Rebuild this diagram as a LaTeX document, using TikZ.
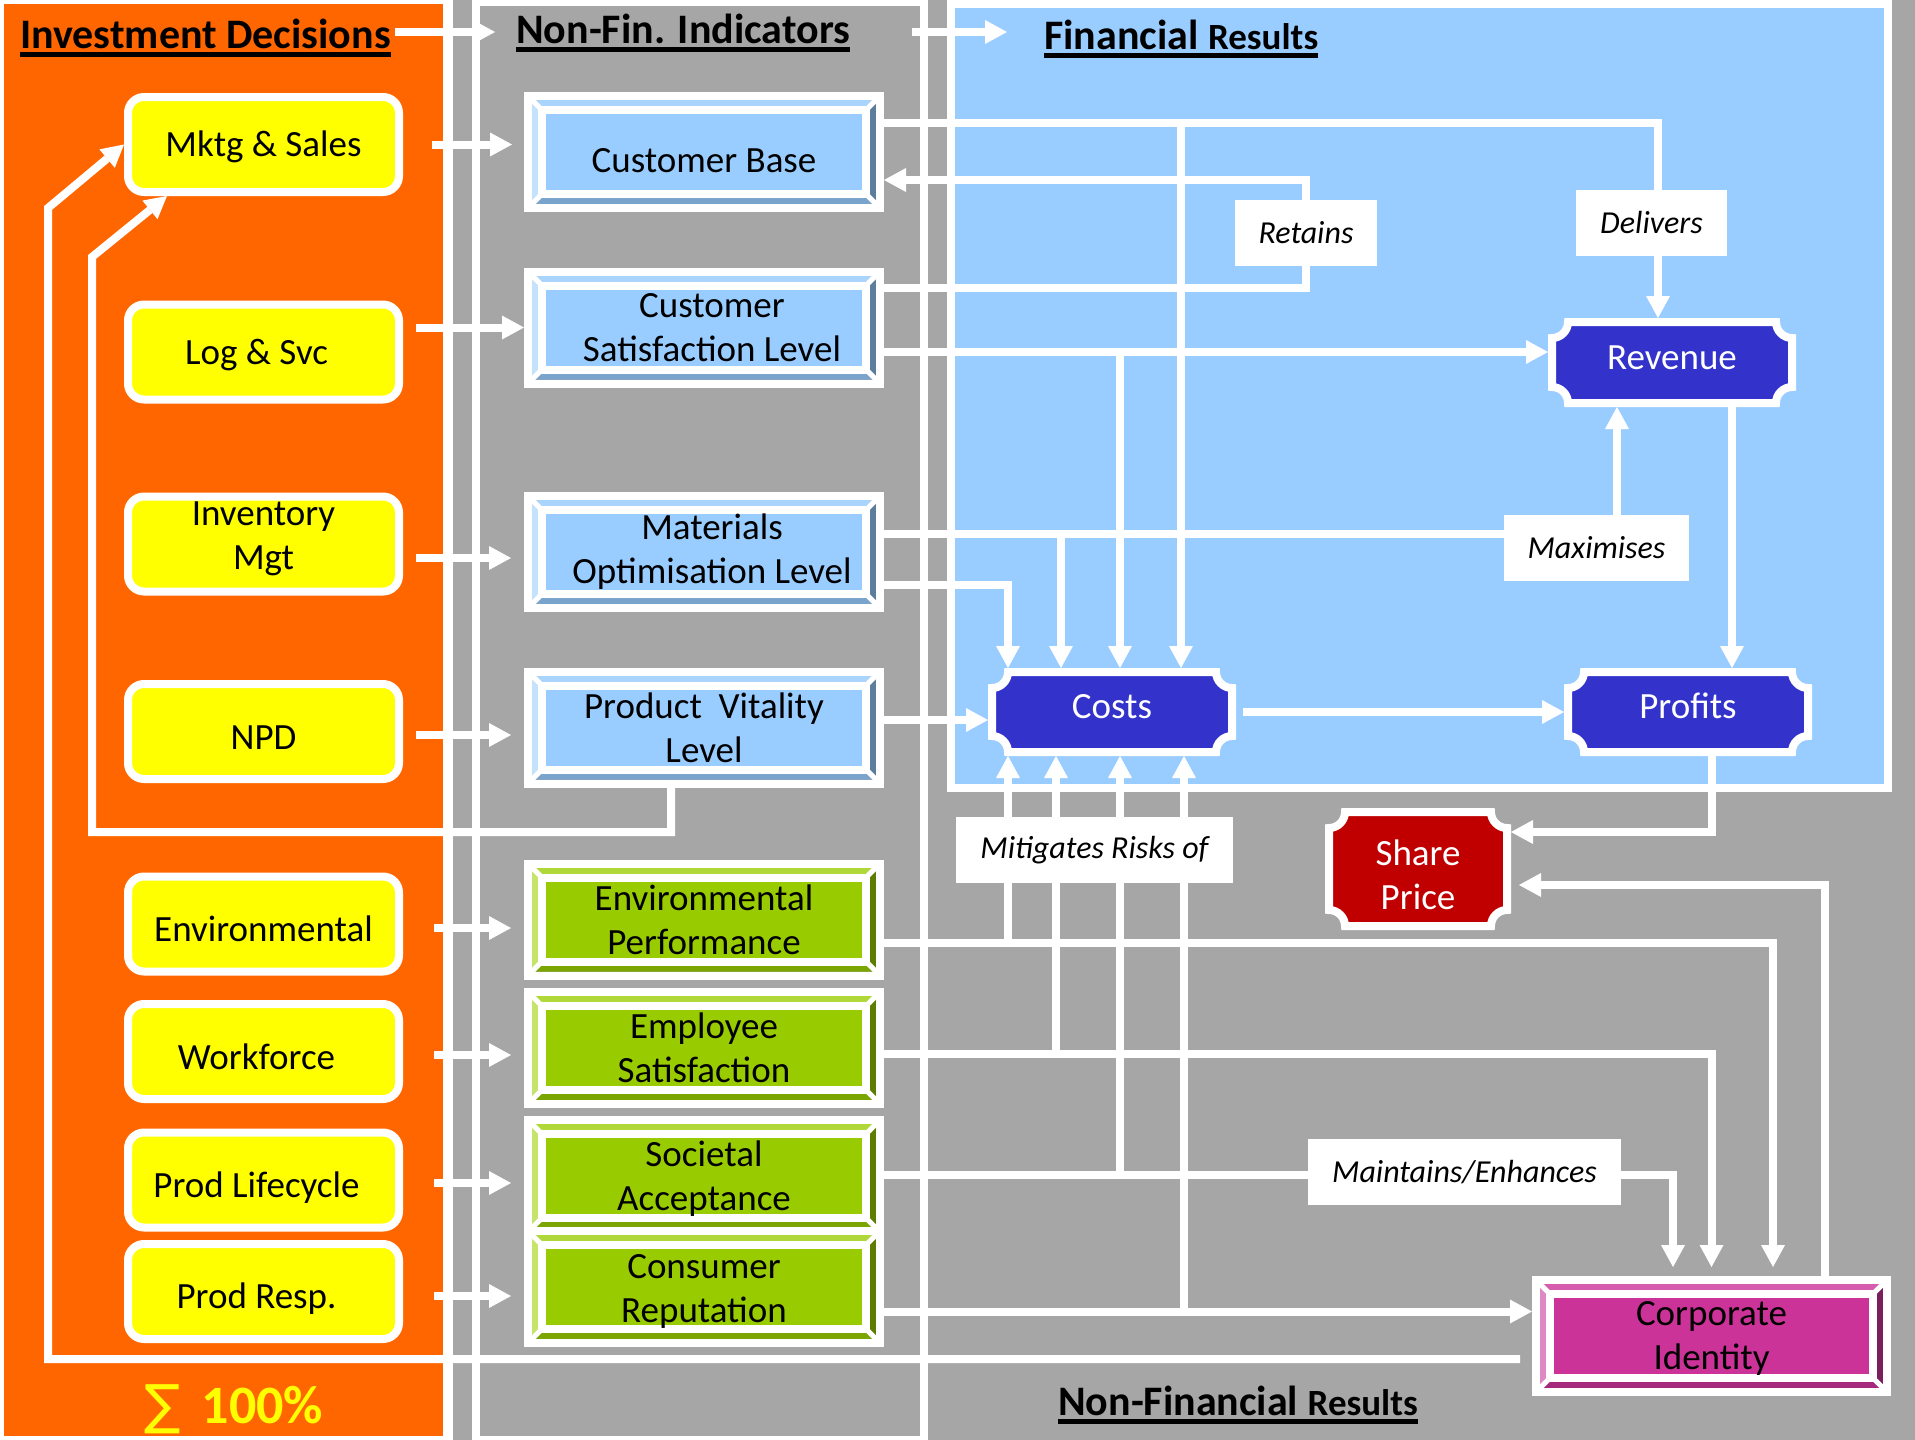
\documentclass[tikz,border=0pt]{standalone}
\usepackage{fontspec}
\setmainfont{Carlito}
\newfontfamily\sigmafont{DejaVu Sans}
\usetikzlibrary{arrows.meta,calc}
\pgfdeclarelayer{panels}
\pgfdeclarelayer{wires}
\pgfdeclarelayer{plates}
\pgfsetlayers{panels,wires,plates,main}

\definecolor{orangeP}{HTML}{FF6600}
\definecolor{greyP}{HTML}{A6A6A6}
\definecolor{skyP}{HTML}{99CCFF}
\definecolor{indigoP}{HTML}{3333CC}
\definecolor{redP}{HTML}{C00000}
\definecolor{yellowP}{HTML}{FFFF00}
% bevel shades: face, top, right, bottom, left
\definecolor{bFace}{HTML}{99CCFF}\definecolor{bTop}{HTML}{AAD4FB}
\definecolor{bRight}{HTML}{5E7D9C}\definecolor{bBot}{HTML}{7BA4CD}\definecolor{bLeft}{HTML}{C5E2FC}
\definecolor{gFace}{HTML}{99CC00}\definecolor{gTop}{HTML}{B0D83A}
\definecolor{gRight}{HTML}{5E7D00}\definecolor{gBot}{HTML}{7BA500}\definecolor{gLeft}{HTML}{C6E36B}
\definecolor{mFace}{HTML}{CC3399}\definecolor{mTop}{HTML}{D65DAE}
\definecolor{mRight}{HTML}{7A1F5C}\definecolor{mBot}{HTML}{A52A7C}\definecolor{mLeft}{HTML}{E088C4}

\newcommand\bodyfont{\fontsize{37pt}{44pt}\selectfont}
\newcommand\tagfont{\fontsize{32pt}{38pt}\selectfont\itshape}
\newcommand\ulhead[1]{\setbox0=\hbox{#1}\rlap{\usebox0}\rule[-9pt]{\wd0}{5pt}}
% vertical nudges of node text without changing the node size
\newcommand\nudge[2]{\raisebox{#1}[\height][\depth]{#2}}
\newcommand\nudgerows[2]{\raisebox{#1}[\height][\depth]{\begin{tabular}{@{}c@{}}#2\end{tabular}}}

% plaque outline (concave corners) around a named node
\newcommand\plaqueframe[2]{%
  \path[fill=#2, draw=white, line width=8pt]
    ([shift={(20pt,-4pt)}]#1.north west) -- ([shift={(-20pt,-4pt)}]#1.north east)
    .. controls ([shift={(-20pt,-12.8pt)}]#1.north east) and ([shift={(-12.8pt,-20pt)}]#1.north east) .. ([shift={(-4pt,-20pt)}]#1.north east)
    -- ([shift={(-4pt,20pt)}]#1.south east)
    .. controls ([shift={(-12.8pt,20pt)}]#1.south east) and ([shift={(-20pt,12.8pt)}]#1.south east) .. ([shift={(-20pt,4pt)}]#1.south east)
    -- ([shift={(20pt,4pt)}]#1.south west)
    .. controls ([shift={(20pt,12.8pt)}]#1.south west) and ([shift={(12.8pt,20pt)}]#1.south west) .. ([shift={(4pt,20pt)}]#1.south west)
    -- ([shift={(4pt,-20pt)}]#1.north west)
    .. controls ([shift={(12.8pt,-20pt)}]#1.north west) and ([shift={(20pt,-12.8pt)}]#1.north west) .. ([shift={(20pt,-4pt)}]#1.north west)
    -- cycle;}

\tikzset{
  wire/.style={draw=white, line width=8pt},
  flow/.style={wire, -{Triangle[length=22pt, width=24pt, line width=0pt]}},
  hdr/.style={inner sep=0pt, font=\bfseries\fontsize{42pt}{48pt}\selectfont},
  ybox/.style={rectangle, rounded corners=16pt, fill=yellowP, draw=white, line width=8pt,
    minimum width=271pt, minimum height=95pt, inner sep=0pt, align=center, font=\bodyfont},
  plaque/.style={rectangle, inner sep=0pt, outer sep=0pt, text=white, align=center, font=\bodyfont},
  tagbox/.style={rectangle, fill=white, inner sep=0pt, minimum height=66pt, font=\tagfont},
  bevel/.style n args={5}{rectangle, draw=white, line width=8pt, inner sep=0pt,
    minimum width=352pt, minimum height=112pt, align=center, font=\bodyfont,
    path picture={
      \path (path picture bounding box.north west) coordinate (bnw)
            (path picture bounding box.south east) coordinate (bse);
      \path (bnw -| bse) coordinate (bne) (bnw |- bse) coordinate (bsw);
      \fill[#2] ([shift={(4pt,-4pt)}]bnw) -- ([shift={(-4pt,-4pt)}]bne) -- ([shift={(-14pt,-14pt)}]bne) -- ([shift={(14pt,-14pt)}]bnw) -- cycle;
      \fill[#3] ([shift={(-4pt,-4pt)}]bne) -- ([shift={(-4pt,4pt)}]bse) -- ([shift={(-14pt,14pt)}]bse) -- ([shift={(-14pt,-14pt)}]bne) -- cycle;
      \fill[#4] ([shift={(-4pt,4pt)}]bse) -- ([shift={(4pt,4pt)}]bsw) -- ([shift={(14pt,14pt)}]bsw) -- ([shift={(-14pt,14pt)}]bse) -- cycle;
      \fill[#5] ([shift={(4pt,4pt)}]bsw) -- ([shift={(4pt,-4pt)}]bnw) -- ([shift={(14pt,-14pt)}]bnw) -- ([shift={(14pt,14pt)}]bsw) -- cycle;
      \draw[white, line width=5pt] ([shift={(4pt,-4pt)}]bnw) -- ([shift={(14pt,-14pt)}]bnw)
            ([shift={(-4pt,-4pt)}]bne) -- ([shift={(-14pt,-14pt)}]bne)
            ([shift={(-4pt,4pt)}]bse) -- ([shift={(-14pt,14pt)}]bse)
            ([shift={(4pt,4pt)}]bsw) -- ([shift={(14pt,14pt)}]bsw);
      \draw[white, line width=8pt, fill=#1] ([shift={(14pt,-14pt)}]bnw) rectangle ([shift={(-14pt,14pt)}]bse);
    }},
  blueind/.style={bevel={bFace}{bTop}{bRight}{bBot}{bLeft}},
  greenind/.style={bevel={gFace}{gTop}{gRight}{gBot}{gLeft}},
}

\begin{document}
\begin{tikzpicture}[x=1pt, y=-1pt]
\useasboundingbox (0,0) rectangle (1915,1440);

% ---------- panels ----------
\begin{pgfonlayer}{panels}
  \fill[white] (0,0) rectangle (1915,1440);
  \fill[orangeP] (4,4) rectangle (443,1436);
  \fill[greyP] (453,0) rectangle (1915,1440);
  \draw[white, line width=8pt, fill=greyP] (476,2) rectangle (924,1440);
  \draw[white, line width=8pt, fill=skyP] (950.5,4) rectangle (1888,788);
\end{pgfonlayer}

% ---------- headings ----------
\node[hdr, anchor=base west] (hid) at (20,48) {\ulhead{Investment Decisions}};
\node[hdr, anchor=base west] (hnf) at (516,43) {\ulhead{Non-Fin. Indicators}};
\node[hdr, anchor=base west] (hfr) at (1044,49) {\ulhead{Financial {\fontsize{37pt}{44pt}\selectfont Results}}};
\node[hdr, anchor=base west] (hnr) at (1058,1415) {\ulhead{Non-Financial {\fontsize{37pt}{44pt}\selectfont Results}}};
\node[anchor=base west, inner sep=0pt, text=yellowP] (sum) at (144,1423)
  {\makebox[57.5pt][l]{\sigmafont\fontsize{54pt}{58pt}\selectfont ∑}{\bfseries\fontsize{54pt}{58pt}\selectfont 100\%}};

% ---------- investment decisions ----------
\node[ybox] (mk)  at (263.5,144.5) {\nudge{-2.5pt}{Mktg \& Sales}};
\node[ybox] (lg)  at (263.5,352)   {\nudge{-3.5pt}{Log \& Svc\hspace*{14pt}}};
\node[ybox] (inv) at (263.5,544)   {\nudgerows{5pt}{Inventory\\Mgt}};
\node[ybox] (npd) at (263.5,731.5) {\nudge{-6pt}{NPD}};
\node[ybox] (env) at (263.5,924)   {\nudge{-5pt}{Environmental}};
\node[ybox] (wrk) at (263.5,1051.5){\nudge{-5pt}{Workforce\hspace*{14pt}}};
\node[ybox] (plc) at (263.5,1180)  {\nudge{-8pt}{Prod Lifecycle\hspace*{14pt}}};
\node[ybox] (prs) at (263.5,1291.5){\nudge{-7pt}{Prod Resp.\hspace*{14pt}}};

% ---------- non-financial indicators ----------
\node[blueind] (cb)  at (704,152)   {\nudge{-9pt}{Customer Base}};
\node[blueind] (csl) at (704,327.5) {\hspace*{16pt}Customer\\\hspace*{16pt}Satisfaction Level};
\node[blueind] (mol) at (704,552)   {\hspace*{16pt}Materials\\\hspace*{16pt}Optimisation Level};
\node[blueind] (pvl) at (704,727.5) {Product\ \ Vitality\\Level};
\node[greenind] (ep) at (704,919.5) {Environmental\\Performance};
\node[greenind] (es) at (704,1048)  {Employee\\Satisfaction};
\node[greenind] (sa) at (704,1176)  {\nudgerows{-4pt}{Societal\\Acceptance}};
\node[greenind] (cr) at (704,1287)  {\nudgerows{-4.5pt}{Consumer\\Reputation}};

% ---------- results ----------
\node[plaque, minimum width=248pt, minimum height=89pt] (rev)   at (1672,362.5) {\nudge{5pt}{Revenue}};
\node[plaque, minimum width=248pt, minimum height=88pt] (costs) at (1112,712)   {\nudge{5pt}{Costs}};
\node[plaque, minimum width=248pt, minimum height=88pt] (prof)  at (1688,712)   {\nudge{6pt}{Profits}};
\node[plaque, minimum width=186pt, minimum height=122pt] (share) at (1418,869)  {\nudgerows{-10pt}{Share\\Price}};
\node[bevel={mFace}{mTop}{mRight}{mBot}{mLeft}, minimum width=351pt] (ci) at (1711.5,1336) {\nudgerows{-3pt}{Corporate\\Identity}};

\begin{pgfonlayer}{plates}
  \plaqueframe{rev}{indigoP}
  \plaqueframe{costs}{indigoP}
  \plaqueframe{prof}{indigoP}
  \plaqueframe{share}{redP}
\end{pgfonlayer}

% ---------- relation labels ----------
\node[tagbox, minimum width=142pt] (tRet) at (1306,233)    {Retains};
\node[tagbox, minimum width=151pt] (tDel) at (1651.5,223)  {Delivers};
\node[tagbox, minimum width=185pt] (tMax) at (1596.5,548)  {Maximises};
\node[tagbox, minimum width=277pt] (tMit) at (1094.5,850)  {Mitigates Risks of};
\node[tagbox, minimum width=313pt] (tMnt) at (1464.5,1172) {Maintains/Enhances};

% ---------- connectors ----------
\begin{pgfonlayer}{wires}
  % heading arrows
  \coordinate (h1s) at ($(hid.base east)+(4pt,16pt)$);
  \coordinate (h1e) at ($(hnf.base west)+(-21pt,0pt)$);
  \draw[flow] (h1s) -- (h1s -| h1e);
  \coordinate (h2s) at ($(hnf.base east)+(62pt,11pt)$);
  \coordinate (h2e) at ($(hfr.base west)+(-37pt,0pt)$);
  \draw[flow] (h2s) -- (h2s -| h2e);

  % decisions to indicators
  \draw[flow] ([xshift=29pt]mk.east) -- +(80pt,0pt);
  \draw[flow] ([shift={(13pt,24.5pt)}]lg.east) -- (csl.west);
  \draw[flow] ([shift={(13pt,-14pt)}]inv.east) -- +(95pt,0pt);
  \draw[flow] ([shift={(13pt,-3.5pt)}]npd.east) -- +(95pt,0pt);
  \draw[flow] ([shift={(31pt,-4pt)}]env.east) -- +(77pt,0pt);
  \draw[flow] ([shift={(31pt,-3.5pt)}]wrk.east) -- +(77pt,0pt);
  \draw[flow] ([shift={(31pt,-3pt)}]plc.east) -- +(77pt,0pt);
  \draw[flow] ([shift={(31pt,-4.5pt)}]prs.east) -- +(77pt,0pt);

  % attach points on Costs
  \coordinate (cn1) at ([xshift=-104pt]costs.north);
  \coordinate (cn2) at ([xshift=-51pt]costs.north);
  \coordinate (cn3) at ([xshift=8pt]costs.north);
  \coordinate (cn4) at ([xshift=69pt]costs.north);
  \coordinate (cs1) at ([xshift=-104pt]costs.south);
  \coordinate (cs2) at ([xshift=-56pt]costs.south);
  \coordinate (cs3) at ([xshift=8pt]costs.south);
  \coordinate (cs4) at ([xshift=72pt]costs.south);

  % customer base delivers revenue
  \coordinate (jd) at ([yshift=29pt]cb.east);
  \draw[flow] (jd) -| ([xshift=-14pt]rev.north);
  \draw[flow] (cn4 |- jd) -- (cn4);
  % satisfaction retains customer base
  \draw[flow] ([yshift=40pt]csl.east) -- ++(422pt,0pt) |- ([yshift=-28pt]cb.east);
  % satisfaction to revenue
  \coordinate (jr) at ([yshift=-24.5pt]csl.east);
  \draw[flow] (jr) -- ([yshift=10.5pt]rev.west);
  \draw[flow] (cn3 |- jr) -- (cn3);
  % materials maximises revenue
  \coordinate (jm) at ([yshift=18.5pt]mol.east);
  \draw[flow] (jm) -| ([xshift=-55pt]rev.south);
  \draw[flow] (cn2 |- jm) -- (cn2);
  \draw[flow] ([yshift=-33pt]mol.east) -| (cn1);
  % vitality to costs
  \draw[flow] ([yshift=7.5pt]pvl.east) -- ([yshift=-8pt]costs.west);

  % financial chain
  \draw[flow] ([xshift=60pt]rev.south) -- ([xshift=44pt]prof.north);
  \draw[flow] ([xshift=7pt]costs.east) -- (prof.west);
  \draw[flow] ([xshift=24pt]prof.south) |- ([yshift=37pt]share.east);
  \draw[flow] ([xshift=113.5pt]ci.north) |- ([shift={(8pt,-16pt)}]share.east);

  % green indicators to corporate identity and costs
  \coordinate (je) at ([yshift=-23.5pt]ep.east);
  \draw[flow] (je) -| ([shift={(61.5pt,9pt)}]ci.north);
  \draw[flow] (cs1 |- je) -- (cs1);
  \coordinate (jw) at ([yshift=-6pt]es.east);
  \draw[flow] (jw) -| ([yshift=9pt]ci.north);
  \draw[flow] (cs2 |- jw) -- (cs2);
  \coordinate (js) at ([yshift=1pt]sa.east);
  \draw[flow] (js) -| ([shift={(-38.5pt,9pt)}]ci.north);
  \draw[flow] (cs3 |- js) -- (cs3);
  \coordinate (jc) at ([yshift=-24.5pt]cr.east);
  \draw[flow] (jc) -- ([yshift=24.5pt]ci.west);
  \draw[flow] (cs4 |- jc) -- (cs4);

  % feedback to marketing & sales
  \draw[flow] ([shift={(-12pt,-23pt)}]ci.west) -- (48,1359) -- (48,208) -- (mk.west);
  \draw[flow] ([xshift=-33pt]pvl.south) -- (671,832) -- (92,832) -- (92,257) -- ([xshift=-96.5pt]mk.south);
\end{pgfonlayer}
\end{tikzpicture}
\end{document}
